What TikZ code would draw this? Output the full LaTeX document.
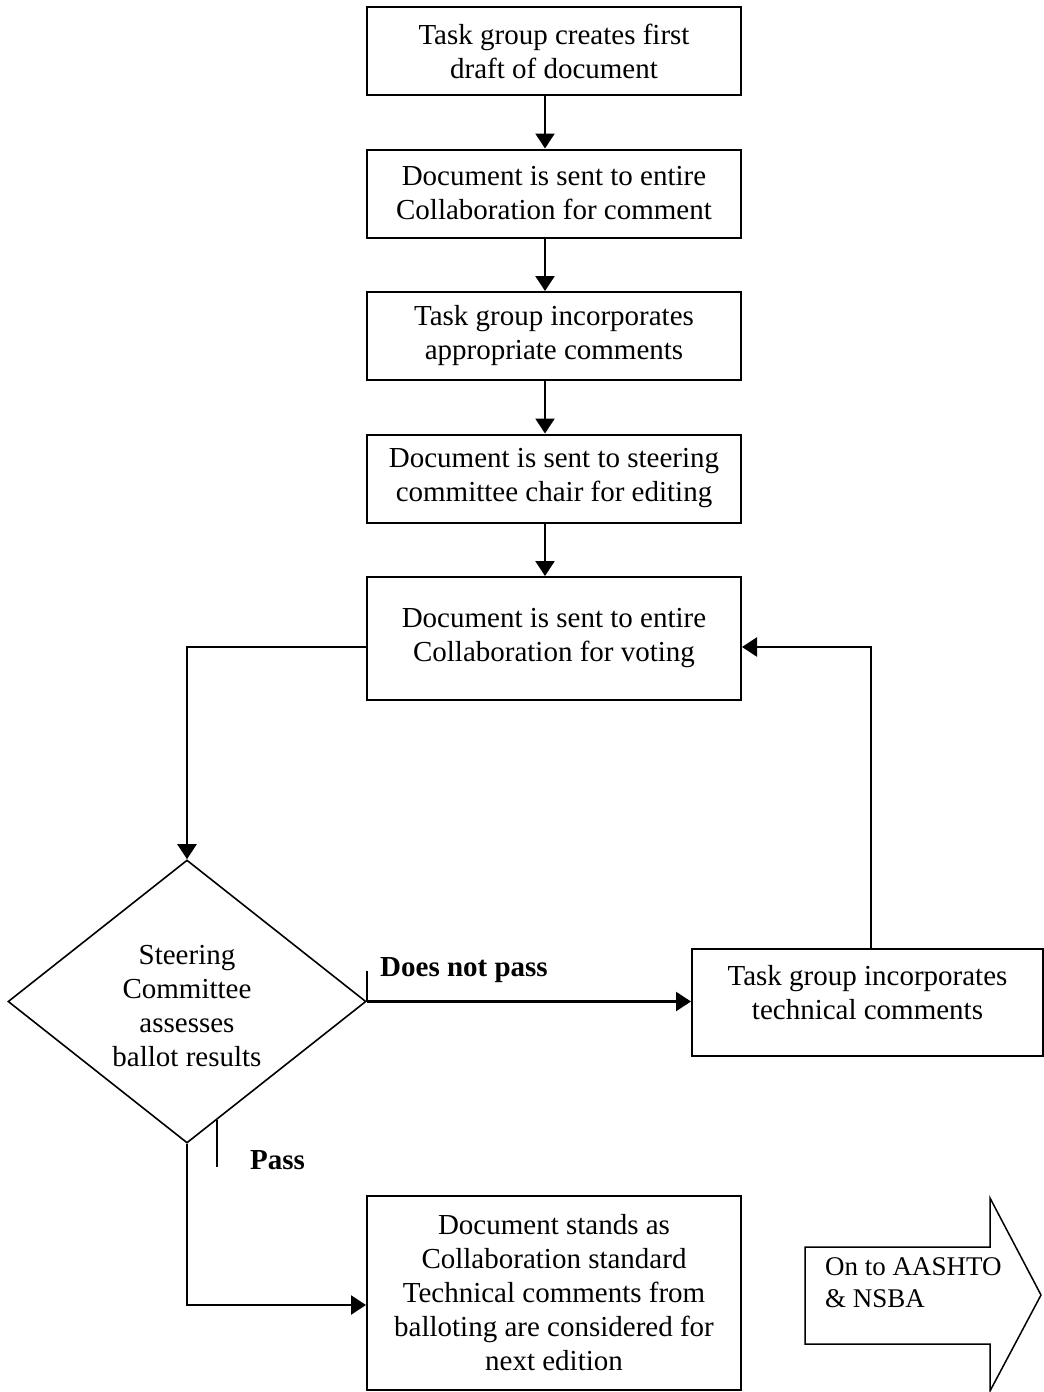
\documentclass[tikz,border=0pt]{standalone}
\usepackage{fontspec}
\setmainfont{Liberation Serif}
\usetikzlibrary{arrows.meta,shapes.geometric,calc}

\begin{document}
\begin{tikzpicture}[x=1pt,y=-1pt,
  txt/.style={font=\fontsize{29}{34}\selectfont},
  stepbox/.style={draw, line width=2pt, minimum width=374pt, minimum height=88pt,
                  align=center, inner sep=0pt, txt},
  flow/.style={line width=2.4pt, -{Triangle[length=15pt,width=19pt]}},
  tick/.style={line width=1.8pt},
  lbl/.style={font=\fontsize{29}{34}\selectfont\bfseries, inner sep=0pt}]

\useasboundingbox (0,0) rectangle (1044,1392);

% process steps
\node[stepbox] (b1) at (554,51)    {Task group creates first\\draft of document};
\node[stepbox] (b2) at (554,193.5) {Document is sent to entire\\Collaboration for comment};
\node[stepbox] (b3) at (554,336)   {Task group incorporates\\appropriate comments};
\node[stepbox] (b4) at (554,478.5) {Document is sent to steering\\committee chair for editing};
\node[stepbox, minimum height=123pt] (b5) at (554,638.5)
  {Document is sent to entire\\Collaboration for voting};
\node[stepbox, minimum width=351pt, minimum height=107pt] (b6) at (867.5,1002.5)
  {Task group incorporates\\technical comments\rule[-21pt]{0pt}{1pt}};
\node[stepbox, minimum height=194pt] (b7) at (554,1293)
  {Document stands as\\Collaboration standard\\Technical comments from\\balloting are considered for\\next edition};

% decision
\node[diamond, draw, line width=1.6pt, minimum width=358pt, minimum height=283pt,
      inner sep=0pt] (dia) at (187,1001.5) {};
\node[txt, align=center, inner sep=0pt] (diatext) at (187,1006)
  {Steering\\Committee\\assesses\\ballot results};

% straight flow between steps
\draw[flow] ([xshift=-9pt]b1.south) -- ([xshift=-9pt]b2.north);
\draw[flow] ([xshift=-9pt]b2.south) -- ([xshift=-9pt]b3.north);
\draw[flow] ([xshift=-9pt]b3.south) -- ([xshift=-9pt]b4.north);
\draw[flow] ([xshift=-9pt]b4.south) -- ([xshift=-9pt]b5.north);

% voting to decision
\draw[flow] ([yshift=-8.5pt]b5.west) -| (dia.north);

% does not pass branch
\draw[flow] (dia.east) -- (dia.east -| b6.west);
\draw[tick] (dia.east) -- ++(0,-31);
\node[lbl, anchor=west] (nopass) at (380,970) {Does not pass};

% loop back to voting
\draw[flow] ([xshift=3.5pt]b6.north) |- ([yshift=-8.5pt]b5.east);

% pass branch
\draw[flow] (dia.south) |- ([yshift=-12pt]b7.west);
\coordinate (tk) at ($(dia.south)!0.169!(dia.east)$);
\draw[tick] (tk) -- (tk |- 0,1167);
\node[lbl, anchor=west] (pass) at (250,1160) {Pass};

% hand-over arrow
\draw[line width=1.5pt, line join=miter]
  (805,1247) -- (990,1247) -- (990,1198) -- (1041,1295) -- (990,1391)
  -- (990,1344) -- (805,1344) -- cycle;
\node[anchor=west, align=left, inner sep=0pt, font=\fontsize{27}{32}\selectfont]
  (next) at (825,1283) {On to AASHTO\\\& NSBA};

\end{tikzpicture}
\end{document}
